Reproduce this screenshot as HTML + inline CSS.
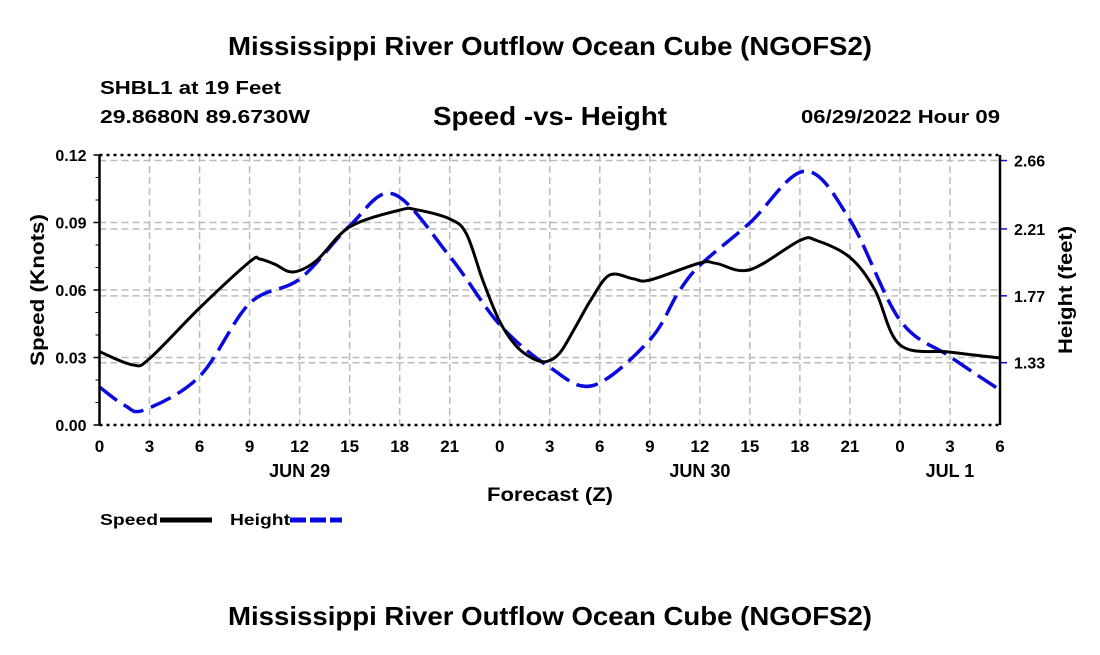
<!DOCTYPE html>
<html><head><meta charset="utf-8"><style>
body{margin:0;background:#fff;}
svg text{font-family:"Liberation Sans",Arial,sans-serif;font-weight:bold;fill:#000;}
</style></head><body>
<svg id="chart" width="1100" height="650">
<text x="228" y="55" font-size="26" textLength="644" lengthAdjust="spacingAndGlyphs">Mississippi River Outflow Ocean Cube (NGOFS2)</text>
<text x="100" y="94" font-size="18" textLength="181" lengthAdjust="spacingAndGlyphs">SHBL1 at 19 Feet</text>
<text x="100" y="123" font-size="18" textLength="210" lengthAdjust="spacingAndGlyphs">29.8680N  89.6730W</text>
<text x="433" y="125" font-size="26" textLength="234" lengthAdjust="spacingAndGlyphs">Speed -vs- Height</text>
<text x="801" y="123" font-size="18" textLength="199" lengthAdjust="spacingAndGlyphs">06/29/2022 Hour 09</text>
<g id="grid"></g>
<g id="series"></g>
<g id="axes"></g>
<text x="487" y="501" font-size="19" textLength="126" lengthAdjust="spacingAndGlyphs">Forecast (Z)</text>
<text transform="translate(44,290) rotate(-90)" font-size="19" text-anchor="middle" textLength="152" lengthAdjust="spacingAndGlyphs">Speed (Knots)</text>
<text transform="translate(1072,290) rotate(-90)" font-size="19" text-anchor="middle" textLength="128" lengthAdjust="spacingAndGlyphs">Height (feet)</text>
<g>
<text x="100" y="525" font-size="16" textLength="58" lengthAdjust="spacingAndGlyphs">Speed</text>
<line x1="160" y1="520" x2="212" y2="520" stroke="#000" stroke-width="5"/>
<text x="230" y="525" font-size="16" textLength="60" lengthAdjust="spacingAndGlyphs">Height</text>
<line x1="290" y1="520" x2="342" y2="520" stroke="#0a0ae0" stroke-width="5" stroke-dasharray="16,4"/>
</g>
<text x="228" y="625" font-size="26" textLength="644" lengthAdjust="spacingAndGlyphs">Mississippi River Outflow Ocean Cube (NGOFS2)</text>
</svg>
<script>
const xTickLabels=["0","3","6","9","12","15","18","21","0","3","6","9","12","15","18","21","0","3","6"];
const dayLabels=["JUN 29","JUN 30","JUL 1"];
const dayHours=[12,36,51];
const speedTicks=[0,0.03,0.06,0.09,0.12];
const heightTicks=[1.33,1.77,2.21,2.66];
const speedHours=[0,2,3,6,9,9.6,10.5,11.6,13,15,18,19,21,22,23,24,25,26,26.8,27.6,28.5,29.5,30.6,32,33,36,37,39,42,43,45,46.5,48,51,54];
const speedValues=[0.0326,0.0267,0.0295,0.052,0.0725,0.0738,0.0715,0.068,0.073,0.088,0.0955,0.0957,0.0916,0.085,0.064,0.046,0.035,0.0295,0.0282,0.032,0.043,0.056,0.0667,0.065,0.0644,0.072,0.0718,0.069,0.082,0.082,0.0745,0.06,0.0356,0.0324,0.0298];
const heightHours=[0,1.5,2.7,6,9,12,15,17.6,21,24,27,29.6,33,34.7,36,39,42.3,45,48,51,54];
const heightValues=[1.17,1.05,1.02,1.24,1.72,1.88,2.23,2.44,2.03,1.58,1.30,1.18,1.48,1.79,1.97,2.25,2.59,2.27,1.61,1.37,1.15];

const X0=99.5,X1=1000,Y0=425,Y1=155;
const xs=h=>X0+(h/54)*(X1-X0);
const ys=v=>Y0-(v/0.12)*(Y0-Y1);
const yh=v=>362.7-(v-1.33)*152;
const NS="http://www.w3.org/2000/svg";
function mk(tag,attrs,parent){const e=document.createElementNS(NS,tag);for(const k in attrs)e.setAttribute(k,attrs[k]);parent.appendChild(e);return e;}
const grid=document.getElementById('grid'),axes=document.getElementById('axes'),series=document.getElementById('series');

xTickLabels.forEach((t,i)=>{const x=xs(i*3);
 if(i>0&&i<18){const g=mk('line',{x1:x,y1:Y1,x2:x,y2:Y0,stroke:'#bbb','stroke-width':1.5,'stroke-dasharray':'7,4'},grid);
 
 }
 const tx=mk('text',{x:x,y:452,'font-size':17,'text-anchor':'middle'},axes);tx.textContent=t;
 
 
});
dayLabels.forEach((d,i)=>{const tx=mk('text',{x:xs(dayHours[i]),y:477,'font-size':18,'text-anchor':'middle'},axes);tx.textContent=d;
 
 
});
speedTicks.forEach(v=>{const y=ys(v);
 if(v>0&&v<0.12){const g=mk('line',{x1:X0,y1:y,x2:X1,y2:y,stroke:'#bbb','stroke-width':1.5,'stroke-dasharray':'7,4'},grid);
 
 }
 mk('line',{x1:X0-6,y1:y,x2:X0,y2:y,stroke:'#000','stroke-width':1.5},axes);
 const tx=mk('text',{x:X0-13,y:y+6,'font-size':16,'text-anchor':'end'},axes);tx.textContent=v.toFixed(2);
 
 
});
for(let v=0.01;v<0.12;v+=0.01){mk('line',{x1:X0-4,y1:ys(v),x2:X0,y2:ys(v),stroke:'#000','stroke-width':1},axes);}
heightTicks.forEach(v=>{const y=yh(v);
 const g=mk('line',{x1:X0,y1:y,x2:X1,y2:y,stroke:'#bbb','stroke-width':1.5,'stroke-dasharray':'7,4'},grid);
 
 
 mk('line',{x1:X1,y1:y,x2:X1+7,y2:y,stroke:'#0a0ae0','stroke-width':1.5},axes);
 const tx=mk('text',{x:X1+14,y:y+6,'font-size':16},axes);tx.textContent=v.toFixed(2);
 
 
});
[Y1,Y0].forEach(y=>{const l=mk('line',{x1:X0,y1:y,x2:X1,y2:y,stroke:'#000','stroke-width':2.5,'stroke-dasharray':'3,4'},axes);
 
 });
[X0,X1].forEach(x=>{const l=mk('line',{x1:x,y1:Y1,x2:x,y2:Y0,stroke:'#000','stroke-width':2.5},axes);
 
 });

function smooth(pts){let d=`M${pts[0][0]},${pts[0][1]}`;
 for(let i=0;i<pts.length-1;i++){const p0=pts[Math.max(0,i-1)],p1=pts[i],p2=pts[i+1],p3=pts[Math.min(pts.length-1,i+2)];
  const c1=[p1[0]+(p2[0]-p0[0])/6,p1[1]+(p2[1]-p0[1])/6],c2=[p2[0]-(p3[0]-p1[0])/6,p2[1]-(p3[1]-p1[1])/6];
  d+=` C${c1[0]},${c1[1]} ${c2[0]},${c2[1]} ${p2[0]},${p2[1]}`;}
 return d;}
const hp=mk('path',{d:smooth(heightHours.map((h,i)=>[xs(h),yh(heightValues[i])])),fill:'none',stroke:'#0a0ae0','stroke-width':3.5,'stroke-dasharray':'22,8'},series);


const sp=mk('path',{d:smooth(speedHours.map((h,i)=>[xs(h),ys(speedValues[i])])),fill:'none',stroke:'#000','stroke-width':3},series);


</script>
</body></html>
